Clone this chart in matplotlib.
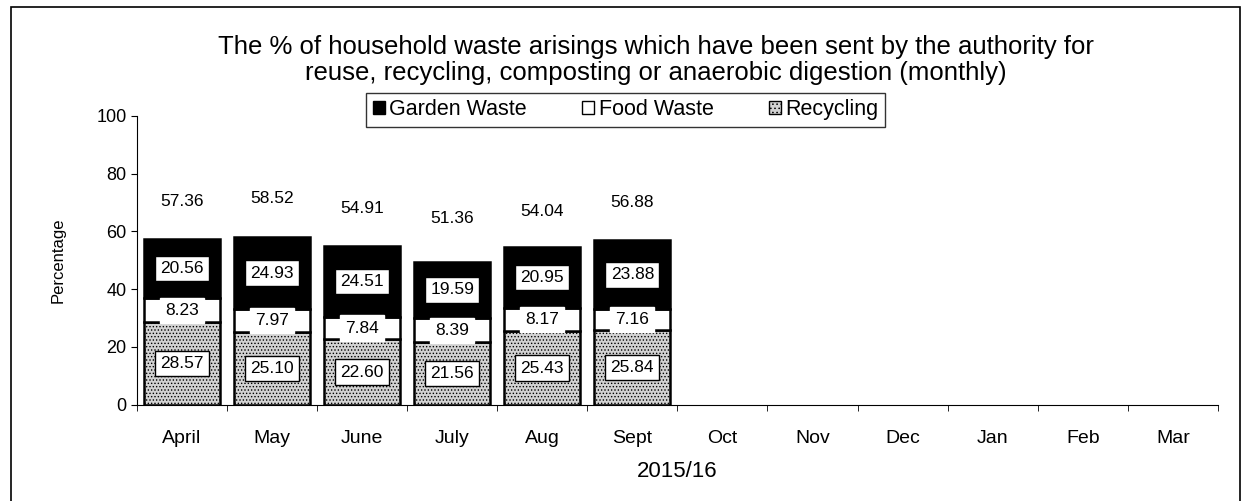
import matplotlib.pyplot as plt
import matplotlib.patches as mpatches
import numpy as np

plt.rcParams['font.family'] = ['Liberation Sans', 'DejaVu Sans']
plt.rcParams['hatch.color'] = '#8a8a8a'
plt.rcParams['hatch.linewidth'] = 0.6

months = ['April', 'May', 'June', 'July', 'Aug', 'Sept', 'Oct', 'Nov', 'Dec', 'Jan', 'Feb', 'Mar']
recycling = [28.57, 25.10, 22.60, 21.56, 25.43, 25.84]
food_waste = [8.23, 7.97, 7.84, 8.39, 8.17, 7.16]
garden_waste = [20.56, 24.93, 24.51, 19.59, 20.95, 23.88]
totals = [57.36, 58.52, 54.91, 51.36, 54.04, 56.88]

fig = plt.figure(figsize=(12.44, 5.01), dpi=100)
ax = fig.add_axes([0.110, 0.192, 0.869, 0.577])

x = np.arange(len(recycling))
w = 0.84
rec = np.array(recycling)
food = np.array(food_waste)
gard = np.array(garden_waste)

ax.bar(x, rec, w, color='#d2d2d2', edgecolor='black', linewidth=1.8, hatch='.....')
ax.bar(x, food, w, bottom=rec, color='white', edgecolor='black', linewidth=1.8)
ax.bar(x, gard, w, bottom=rec + food, color='black', edgecolor='black', linewidth=1.8)

# data labels inside the segments
box = dict(boxstyle='square,pad=0.3', fc='white', ec='black', lw=1)
wbox = dict(boxstyle='square,pad=0.3', fc='white', ec='white', lw=1)
for i in x:
    ax.text(i, rec[i] / 2, f'{rec[i]:.2f}', ha='center', va='center', fontsize=12.5, bbox=box)
    ax.text(i, rec[i] + food[i] / 2, f'{food[i]:.2f}', ha='center', va='center', fontsize=12.5, bbox=wbox)
    ax.text(i, rec[i] + food[i] + gard[i] / 2, f'{gard[i]:.2f}', ha='center', va='center',
            fontsize=12.5, bbox=box)
    ax.text(i, totals[i] + 13, f'{totals[i]:.2f}', ha='center', va='center', fontsize=12.5)

ax.set_xlim(-0.5, 11.5)
ax.set_ylim(0, 100)
ax.set_yticks(range(0, 101, 20))
ax.set_xticks(np.arange(12))
ax.set_xticklabels(months, fontsize=14)
ax.set_xticks(np.arange(-0.5, 12, 1), minor=True)
ax.tick_params(axis='x', which='major', length=0, pad=18)
ax.tick_params(axis='x', which='minor', length=4, direction='out')
ax.tick_params(axis='y', labelsize=13, length=4)
ax.spines['top'].set_visible(False)
ax.spines['right'].set_visible(False)
ax.set_ylabel('Percentage', fontsize=12, labelpad=22)
ax.set_xlabel('2015/16', fontsize=16, labelpad=10)

fig.text(0.527, 0.88, 'The % of household waste arisings which have been sent by the authority for\n'
         'reuse, recycling, composting or anaerobic digestion (monthly)',
         fontsize=18.5, ha='center', va='center', linespacing=1.1)

handles = [mpatches.Patch(fc='black', ec='black'),
           mpatches.Patch(fc='white', ec='black'),
           mpatches.Patch(fc='#d2d2d2', ec='black', hatch='....')]
leg = fig.legend(handles, ['Garden Waste', 'Food Waste', 'Recycling'], loc='center',
                 bbox_to_anchor=(0.503, 0.781), ncol=3, fontsize=15.5, frameon=True,
                 fancybox=False, edgecolor='black', handlelength=0.55, handleheight=0.55,
                 handletextpad=0.2, columnspacing=2.6, borderpad=0.3)
leg.get_frame().set_linewidth(1)

fig.add_artist(mpatches.Rectangle((0.009, -0.02), 0.988, 1.006, transform=fig.transFigure,
                                  fill=False, ec='black', lw=1.2))

fig.savefig('out.png', dpi=100)
